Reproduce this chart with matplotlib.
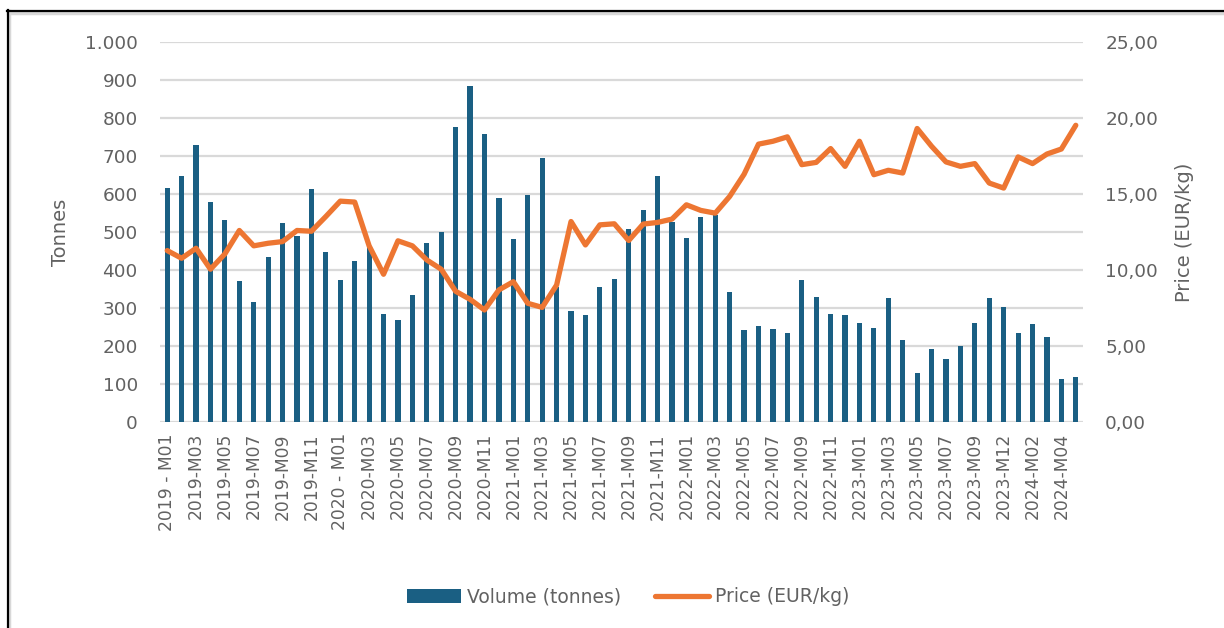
import matplotlib
matplotlib.use("Agg")
import matplotlib.pyplot as plt
from matplotlib.lines import Line2D
from matplotlib.patches import Patch
from matplotlib.ticker import FuncFormatter, MultipleLocator

plt.rcParams['font.family'] = ['DejaVu Sans']

months = (
    [f"2019-M{m:02d}" for m in range(1, 13)]
    + [f"2020-M{m:02d}" for m in range(1, 13)]
    + [f"2021-M{m:02d}" for m in range(1, 13)]
    + [f"2022-M{m:02d}" for m in range(1, 13)]
    + [f"2023-M{m:02d}" for m in range(1, 11)]
    + ["2023-M12"]
    + [f"2024-M{m:02d}" for m in range(1, 6)]
)
tick_labels = [("2019 - M01" if m == "2019-M01" else "2020 - M01" if m == "2020-M01" else m)
               for m in months]

volume = [617, 648, 729, 580, 532, 370, 316, 434, 523, 489, 614, 448,
          374, 425, 462, 285, 268, 333, 472, 500, 777, 884, 759, 589,
          482, 597, 696, 355, 292, 281, 354, 377, 508, 559, 648, 527,
          485, 539, 545, 343, 241, 252, 244, 235, 374, 329, 285, 281,
          261, 248, 326, 215, 130, 191, 167, 201, 261, 326, 303, 235,
          258, 224, 113, 119]

price = [11.28, 10.77, 11.43, 10.05, 11.06, 12.60, 11.59, 11.76, 11.87, 12.60, 12.55, 13.52,
         14.53, 14.47, 11.59, 9.72, 11.92, 11.59, 10.66, 10.05, 8.60, 8.07, 7.37, 8.69,
         9.23, 7.81, 7.54, 9.01, 13.19, 11.65, 12.97, 13.04, 11.94, 13.02, 13.13, 13.35,
         14.29, 13.92, 13.74, 14.84, 16.30, 18.28, 18.47, 18.76, 16.93, 17.08, 17.99, 16.82,
         18.47, 16.27, 16.56, 16.38, 19.31, 18.14, 17.11, 16.82, 17.00, 15.72, 15.39, 17.44,
         17.00, 17.63, 17.96, 19.52]

BAR_C = "#1a5f83"
LINE_C = "#ed7632"
TXT_C = "#626262"
GRID_C = "#d9d9d9"

fig = plt.figure(figsize=(12.24, 6.28), dpi=100)
ax = fig.add_axes([160/1224, (628-422)/628, (1083-160)/1224, 380/628])
ax2 = ax.twinx()

x = list(range(len(months)))
ax.bar(x, volume, width=0.36, color=BAR_C, zorder=2)
ax2.plot(x, price, color=LINE_C, lw=3.8, solid_capstyle='round', solid_joinstyle='round', zorder=3)

ax.set_xlim(-0.5, len(months) - 0.5)
ax.set_ylim(0, 1000)
ax2.set_ylim(0, 25)
ax.yaxis.set_major_locator(MultipleLocator(100))
ax2.yaxis.set_major_locator(MultipleLocator(5))

ax.yaxis.set_major_formatter(FuncFormatter(lambda v, p: f"{int(v):,}".replace(",", ".")))
ax2.yaxis.set_major_formatter(FuncFormatter(lambda v, p: f"{v:.2f}".replace(".", ",")))

ax.set_axisbelow(True)
ax.grid(axis='y', color=GRID_C, lw=1.6, zorder=0)
ax.set_xticks(x[::2])
ax.set_xticklabels(tick_labels[::2], rotation=90, fontsize=12.3, color=TXT_C)
ax.tick_params(axis='x', length=0, pad=8)
ax.tick_params(axis='y', length=0, pad=16, labelsize=13.3, labelcolor=TXT_C)
ax2.tick_params(axis='y', length=0, pad=16, labelsize=13.3, labelcolor=TXT_C)

for a in (ax, ax2):
    for s in a.spines.values():
        s.set_visible(False)

ax.set_ylabel("Tonnes", fontsize=14, color=TXT_C, labelpad=11)
ax2.set_ylabel("Price (EUR/kg)", fontsize=14, color=TXT_C, labelpad=12)

handles = [Patch(facecolor=BAR_C, label="Volume (tonnes)"),
           Line2D([0], [0], color=LINE_C, lw=3.8, solid_capstyle='round', label="Price (EUR/kg)")]
leg = fig.legend(handles=handles, loc='center', bbox_to_anchor=(628/1224, 1 - 597/628),
                 ncol=2, frameon=False, fontsize=13.5, handlelength=2.9, handleheight=0.75,
                 handletextpad=0.3, columnspacing=1.8)
for t in leg.get_texts():
    t.set_color(TXT_C)

# screenshot frame (left and top borders)
fig.add_artist(Line2D([8.5/1224, 8.5/1224], [0, 1 - 11/628], color="#d8d8d8", lw=2.5, transform=fig.transFigure))
fig.add_artist(Line2D([8/1224, 1], [1 - 12.5/628, 1 - 12.5/628], color="#d8d8d8", lw=2.5, transform=fig.transFigure))
fig.add_artist(Line2D([7.5/1224, 7.5/1224], [0, 1 - 10/628], color="black", lw=1.6, transform=fig.transFigure))
fig.add_artist(Line2D([7/1224, 1], [1 - 11/628, 1 - 11/628], color="black", lw=1.6, transform=fig.transFigure))

fig.savefig("out.png", dpi=100)
